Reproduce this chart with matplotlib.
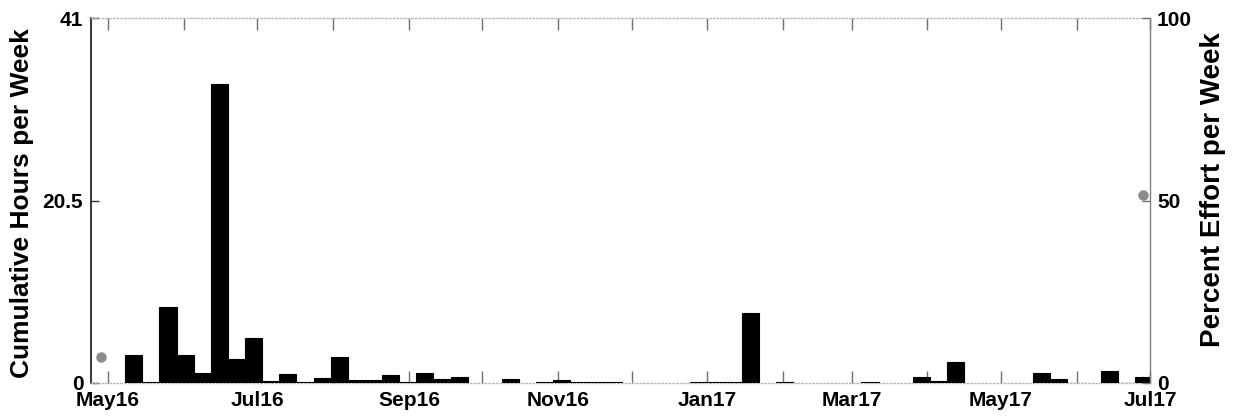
import numpy as np
import pandas as pd
import matplotlib
matplotlib.use("Agg")
import matplotlib.pyplot as plt
import matplotlib.dates as mdates
from matplotlib.ticker import FuncFormatter

plt.rcParams["font.family"] = ["Liberation Sans", "DejaVu Sans"]
plt.rcParams["font.weight"] = "bold"

# weekly bins (week start dates) and hours per week
week_start = pd.date_range("2016-05-08", periods=60, freq="7D")
hours = [3.15, 0.15, 8.5, 3.2, 1.1, 33.6, 2.75, 5.0, 0.25, 1.0,
         0.1, 0.6, 2.95, 0.3, 0.3, 0.9, 0.1, 1.1, 0.45, 0.7,
         0, 0, 0.45, 0, 0.1, 0.3, 0.1, 0.1, 0.1, 0,
         0, 0, 0, 0.1, 0.1, 0.1, 7.9, 0, 0.1, 0,
         0, 0, 0, 0.1, 0, 0, 0.65, 0.2, 2.35, 0,
         0, 0, 0, 1.1, 0.4, 0.05, 0, 1.3, 0.05, 0.7]

# percent effort points (right axis)
effort_dates = pd.to_datetime(["2016-04-28", "2017-06-28"])
effort_pct = [7.0, 51.5]

hours_ticks = [0, 20.5, 41]
pct_ticks = [0, 50, 100]
x_start, x_end = pd.Timestamp("2016-04-24"), pd.Timestamp("2017-07-01")

fig = plt.figure(figsize=(12.38, 4.18), dpi=100)
ax = fig.add_axes([91 / 1238, 1 - 383 / 418, 1059 / 1238, 365 / 418])

h = np.array(hours)
keep = h > 0
ax.bar(week_start[keep], h[keep], width=7, align="edge",
       color="black", edgecolor="black", lw=0.8, zorder=3)

ax.set_xlim(x_start, x_end)
ax.set_ylim(0, 41)
ax.set_yticks(hours_ticks)
ax.set_yticklabels(["0", "20.5", "41"])

ax.xaxis.set_major_locator(mdates.MonthLocator())
ax.xaxis.set_major_formatter(FuncFormatter(
    lambda v, pos: mdates.num2date(v).strftime("%b%y") if mdates.num2date(v).month % 2 == 1 else ""))
ax.tick_params(axis="x", which="major", direction="in", length=8.5, width=1,
               color="#707070", top=True, bottom=True, labelsize=15, pad=6)
ax.tick_params(axis="y", direction="in", length=6, width=1, color="#303030",
               labelsize=15, pad=5.5)

for s in ("top", "bottom"):
    ax.spines[s].set_linestyle(":")
    ax.spines[s].set_color("#b8b8b8")
    ax.spines[s].set_linewidth(1)
ax.spines["left"].set_color("black")
ax.spines["left"].set_linewidth(1.1)
ax.spines["right"].set_visible(False)

ax2 = ax.twinx()
ax2.plot(effort_dates, effort_pct, "o", color="#8c8c8c", ms=6.5, lw=0)
ax2.set_ylim(0, 100)
ax2.set_xlim(x_start, x_end)
ax2.set_yticks(pct_ticks)
ax2.tick_params(axis="y", direction="in", length=6, width=1, color="#707070",
                labelsize=15, pad=5)
for s in ("top", "bottom", "left"):
    ax2.spines[s].set_visible(False)
ax2.spines["right"].set_color("#808080")
ax2.spines["right"].set_linewidth(1)

fig.text(22 / 1238, 1 - 203.5 / 418, "Cumulative Hours per Week", rotation=90,
         ha="center", va="center", fontsize=19, fontweight="bold")
fig.text(1213 / 1238, 1 - 189.5 / 418, "Percent Effort per Week", rotation=90,
         ha="center", va="center", fontsize=20, fontweight="bold")

plt.savefig("out.png", dpi=100)
